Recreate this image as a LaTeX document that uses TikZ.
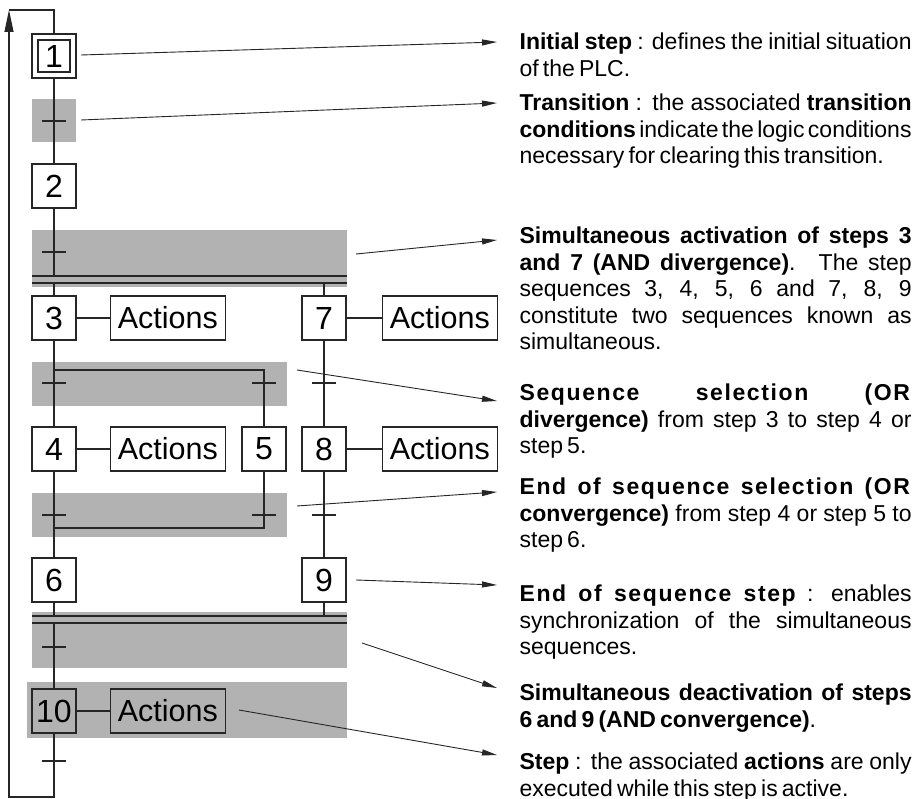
\documentclass[tikz,border=0pt]{standalone}
\usepackage{fontspec}
\setmainfont[WordSpace={0.65,1,1}]{Liberation Sans}
\usetikzlibrary{positioning,arrows.meta,calc}

\newcommand{\spread}[1]{\textbf{\addfontfeature{LetterSpace=7}#1}}

\begin{document}
\begin{tikzpicture}[
  x=1pt, y=-1pt,
  line width=1.2pt, draw=black!85,
  stepbox/.style={draw, line width=1.3pt, minimum width=44pt, minimum height=44pt,
                  inner sep=0pt, font=\fontsize{32}{32}\selectfont},
  actbox/.style={draw, line width=1.3pt, minimum width=115pt, minimum height=44pt,
                 inner sep=0pt, font=\fontsize{30.5}{30}\selectfont},
  zone/.style={fill=black!30, draw=none},
  pointer/.style={-{Triangle[length=15pt,width=6pt]}, line width=0.9pt},
  note/.style={anchor=north west, inner sep=0pt, text width=392pt, align=justify,
               font=\fontsize{23}{26.5}\selectfont},
]
\useasboundingbox (0,0) rectangle (920,799);

% ---- shaded zones behind the chart ----
\foreach \xa/\ya/\xb/\yb in {32/99/76/142, 32/230/347/287, 32/362/287/406,
                             32/493/287/537, 32/612/347/668, 27/682/347/738}
  \fill[zone] (\xa,\ya) rectangle (\xb,\yb);

% ---- steps ----
\node[stepbox] (s1) at (54,56) {};
\node[stepbox, minimum width=32pt, minimum height=32pt] (s1i) at (s1) {1};
\foreach \n/\x/\y in {2/54/186, 3/54/318, 4/54/449, 5/264/449, 6/54/580,
                      7/324/318, 8/324/449, 9/324/580, 10/54/711}
  \node[stepbox] (s\n) at (\x,\y) {\n};

% actions
\node[actbox, right=33pt of s3] (a3) {Actions};
\node[actbox, right=33pt of s4] (a4) {Actions};
\node[actbox, right=35pt of s7] (a7) {Actions};
\node[actbox, right=35pt of s8] (a8) {Actions};
\node[actbox, right=33pt of s10] (a10) {Actions};
\foreach \n in {3,4,7,8,10}
  \draw (s\n) -- (a\n);

% ---- links between steps ----
\coordinate (andIn) at (32,276);  \coordinate (andOut) at (32,283);
\coordinate (joinIn) at (32,616); \coordinate (joinOut) at (32,623);
\coordinate (orA) at (54,370);    \coordinate (orB) at (54,528);

\draw (s1) -- (s2);
\draw (andIn) -- ++(315,0) (andOut) -- ++(315,0);
\draw (s2) -- (s2 |- andIn);
\draw (s3 |- andOut) -- (s3);
\draw (s7 |- andOut) -- (s7);
\draw (s3) -- (s4) -- (s6);
\draw (orA) -| (s5);
\draw (s5) |- (orB);
\draw (s7) -- (s8) -- (s9);
\draw (joinIn) -- ++(315,0) (joinOut) -- ++(315,0);
\draw (s6) -- (s6 |- joinIn);
\draw (s9) -- (s9 |- joinIn);
\draw (s10 |- joinOut) -- (s10);

% loop back to the initial step
\coordinate (loopB) at (54,797); \coordinate (loopL) at (9,797);
\coordinate (loopT) at (9,10);   \coordinate (loopR) at (54,10);
\draw[-{Triangle[length=22pt,width=9pt]}] (s10) -- (loopB) -- (loopL) -- (loopT);
\draw (loopT) -- (loopR) -- (s1);

% transition bars
\foreach \x/\y in {54/121, 54/252, 54/383, 264/383, 324/383,
                   54/515, 264/515, 324/515, 54/647, 54/761}
  \draw (\x-12,\y) -- (\x+12,\y);

% ---- notes on the right ----
\node[note] (nInit) at (519,32.5) {\textbf{Initial step} : defines the initial situation\linebreak
  of the PLC.};
\node[note] (nTrans) at (519,93.5) {\textbf{Transition} : the associated \textbf{transition}\linebreak
  \textbf{conditions} indicate the logic conditions\linebreak
  necessary for clearing this transition.};
\node[note] (nAndDiv) at (519,226.5) {\textbf{Simultaneous activation of steps 3}\linebreak
  \textbf{and 7 (AND divergence)}. The step\linebreak
  sequences 3, 4, 5, 6 and 7, 8, 9\linebreak
  constitute two sequences known as\linebreak
  simultaneous.};
\node[note] (nOrDiv) at (519,383.5) {\spread{Sequence selection (OR}\linebreak
  \textbf{divergence)} from step 3 to step 4 or\linebreak
  step 5.};
\node[note] (nOrConv) at (519,477.5) {\spread{End of sequence selection (OR}\linebreak
  \textbf{convergence)} from step 4 or step 5 to\linebreak
  step 6.};
\node[note] (nEnd) at (519,584.5) {\spread{End of sequence step} : enables\linebreak
  synchronization of the simultaneous\linebreak
  sequences.};
\node[note] (nAndConv) at (519,683.5) {\textbf{Simultaneous deactivation of steps}\linebreak
  \textbf{6 and 9 (AND convergence)}.};
\node[note] (nStep) at (519,752.5) {\textbf{Step} : the associated \textbf{actions} are only\linebreak
  executed while this step is active.};

% pointers from the chart to the notes
\foreach \name/\xa/\ya/\yb in {Init/81/55/42, Trans/81/120/103, AndDiv/356/254/240,
                               OrDiv/297/370/401, OrConv/297/506/492, End/356/580/585,
                               AndConv/362/643/688, Step/239/710/755}{
  \coordinate (from\name) at (\xa,\ya);
  \coordinate (to\name) at (497,\yb);
  \draw[pointer] (from\name) -- (to\name);
}
\end{tikzpicture}
\end{document}
